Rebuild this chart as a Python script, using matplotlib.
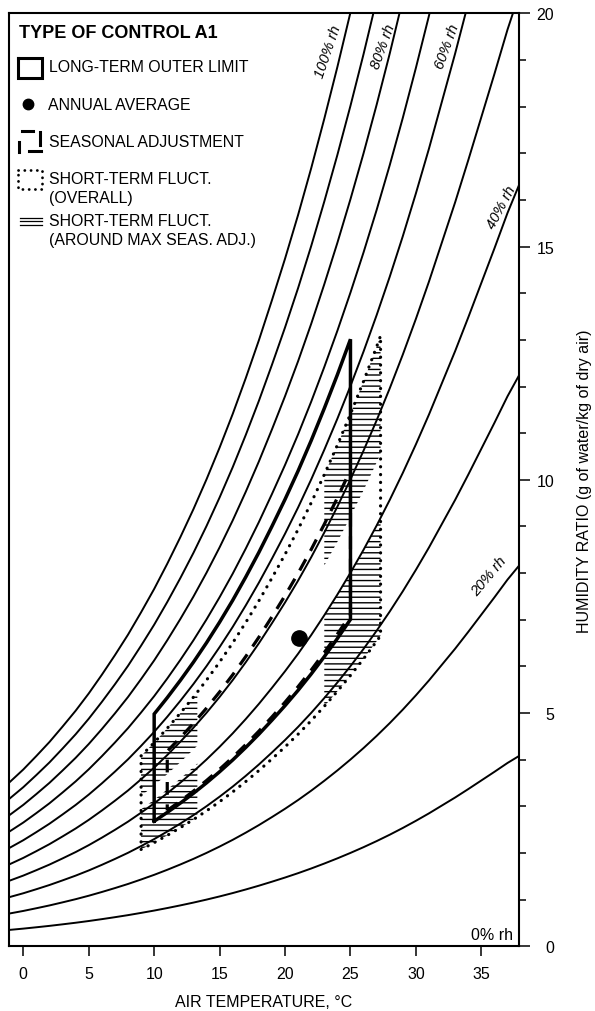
import numpy as np
import matplotlib
matplotlib.use("Agg")
import matplotlib.pyplot as plt
from matplotlib.ticker import MultipleLocator

plt.rcParams['font.family'] = ['Liberation Sans', 'DejaVu Sans']
plt.rcParams['hatch.linewidth'] = 1.0

# ---- data ----
# saturation humidity ratio (g/kg) by air temperature (°C), as drawn on the chart
sat_T = [-2, -1, 0, 1, 2, 3, 4, 5, 6, 7, 8, 9, 10, 11, 12, 13, 14, 15, 16, 17, 18, 19,
         20, 21, 22, 23, 24, 25, 26, 27, 28, 29, 30, 31, 32, 33, 34, 35, 36, 37, 38]
sat_W = [3.28, 3.53, 3.79, 4.08, 4.38, 4.71, 5.05, 5.42, 5.82, 6.24, 6.68, 7.16, 7.66,
         8.20, 8.77, 9.37, 10.01, 10.69, 11.41, 12.18, 12.99, 13.85, 14.74, 15.68, 16.68,
         17.74, 18.85, 20.02, 21.25, 22.55, 23.92, 25.37, 26.90, 28.50, 30.20, 31.90,
         33.70, 35.55, 37.40, 39.30, 41.00]
rh_levels = [10, 20, 30, 40, 50, 60, 70, 80, 90, 100]

# control zones: (T min, T max, rh min %, rh max %)
outer_limit = (10, 25, 35, 65)
seasonal_adj = (11, 25, 35.5, 51)
short_term_overall = (9, 27.3, 29, 57)
short_term_max_seas = [(23, 27.3, 46, 57), (23, 27.3, 29, 40),
                       (9, 13.3, 29, 41), (9, 13.3, 45, 57)]
annual_avg_T = [21.1]
annual_avg_W = [6.6]

curve_labels = ["100% rh", "80% rh", "60% rh", "40% rh", "20% rh"]
curve_label_T = [23.3, 27.5, 32.4, 36.55, 35.6]
curve_label_W = [19.2, 19.3, 19.3, 15.85, 7.95]
curve_label_rot = [71, 70, 70, 62, 50]

x_ticks = [0, 5, 10, 15, 20, 25, 30, 35]
y_ticks = [0, 5, 10, 15, 20]

W_px, H_px = 595, 1012
fig = plt.figure(figsize=(W_px / 100, H_px / 100), dpi=100)
L, R, T_, B = 9.3, 518.5, 14.3, 947.3
ax = fig.add_axes([L / W_px, 1 - B / H_px, (R - L) / W_px, (B - T_) / H_px])
ax.set_xlim(-1.07, 37.84)
ax.set_ylim(0, 20)


def rh_line(rh, t_lo, t_hi):
    ts = [t_lo] + [t for t in sat_T if t_lo < t < t_hi] + [t_hi]
    ts = np.array(ts, dtype=float)
    return ts, rh / 100.0 * np.interp(ts, sat_T, sat_W)


def zone(t_lo, t_hi, rh_lo, rh_hi):
    t1, w1 = rh_line(rh_lo, t_lo, t_hi)
    t2, w2 = rh_line(rh_hi, t_lo, t_hi)
    xs = np.concatenate([t1, t2[::-1], t1[:1]])
    ys = np.concatenate([w1, w2[::-1], w1[:1]])
    return xs, ys


for rh in rh_levels:
    ax.plot(sat_T, [rh / 100.0 * w for w in sat_W], color='black', lw=1.4, zorder=2)

for z in short_term_max_seas:
    xs, ys = zone(*z)
    ax.fill(xs, ys, facecolor='none', edgecolor='black', linewidth=0, hatch='---', zorder=3)

xs, ys = zone(*short_term_overall)
ax.plot(xs, ys, color='black', lw=2.3, linestyle=(0, (0.05, 2.4)), dash_capstyle='round', zorder=4)

xs, ys = zone(*seasonal_adj)
ax.plot(xs, ys, color='black', lw=2.3, linestyle=(0, (4, 3)), zorder=5)

xs, ys = zone(*outer_limit)
ax.plot(xs, ys, color='black', lw=2.5, zorder=6, solid_joinstyle='miter')

ax.plot(annual_avg_T, annual_avg_W, 'o', color='black', ms=11, zorder=7)

for txt, tx, ty, rot in zip(curve_labels, curve_label_T, curve_label_W, curve_label_rot):
    ax.text(tx, ty, txt, rotation=rot, ha='center', va='center', fontsize=10.5,
            style='italic', zorder=8)
ax.text(37.45, 0.1, "0% rh", ha='right', va='bottom', fontsize=11.5)

# axes styling
for s in ax.spines.values():
    s.set_linewidth(1.5)
ax.yaxis.tick_right()
ax.set_yticks(y_ticks)
ax.yaxis.set_minor_locator(MultipleLocator(1))
ax.set_xticks(x_ticks)
ax.tick_params(axis='y', which='major', direction='out', length=8, width=1.1, pad=17.6,
               labelsize=11.5, right=True, left=False)
ax.tick_params(axis='y', which='minor', direction='out', length=5, width=1.1, right=True, left=False)
for lab in ax.get_yticklabels():
    lab.set_horizontalalignment('right')
ax.tick_params(axis='x', which='major', direction='out', length=7.2, width=1.1, pad=7,
               labelsize=11.5, top=False)


def fp(x, y):
    return (x / W_px, 1 - y / H_px)


fig.text(*fp(263.9, 1003), "AIR TEMPERATURE, °C", ha='center', va='center', fontsize=11.5)
fig.text(*fp(585, 480.8), "HUMIDITY RATIO (g of water/kg of dry air)", ha='center',
         va='center', rotation=90, fontsize=11.5)

# legend block
tf = fig.transFigure
fig.text(*fp(19.3, 33.3), "TYPE OF CONTROL A1", ha='left', va='center', fontsize=13,
         fontweight='bold')
fs = 11.4
fig.text(*fp(48.8, 67.8), "LONG-TERM OUTER LIMIT", ha='left', va='center', fontsize=fs)
fig.text(*fp(48.3, 105), "ANNUAL AVERAGE", ha='left', va='center', fontsize=fs)
fig.text(*fp(48.8, 142.7), "SEASONAL ADJUSTMENT", ha='left', va='center', fontsize=fs)
fig.text(*fp(48.8, 179.3), "SHORT-TERM FLUCT.", ha='left', va='center', fontsize=fs)
fig.text(*fp(48.8, 198.3), "(OVERALL)", ha='left', va='center', fontsize=fs)
fig.text(*fp(48.8, 221.7), "SHORT-TERM FLUCT.", ha='left', va='center', fontsize=fs)
fig.text(*fp(48.8, 240.7), "(AROUND MAX SEAS. ADJ.)", ha='left', va='center', fontsize=fs)


def seg(pts, **kw):
    xs = [fp(*p)[0] for p in pts]
    ys = [fp(*p)[1] for p in pts]
    fig.add_artist(plt.Line2D(xs, ys, transform=tf, color='black', **kw))


seg([(18.3, 59.3), (41.7, 59.3), (41.7, 79.3), (18.3, 79.3), (18.3, 59.3)], lw=2.2,
    solid_joinstyle='miter')
fig.add_artist(plt.Line2D([fp(28.3, 105)[0]], [fp(28.3, 105)[1]], transform=tf,
                          marker='o', ms=7.5, color='black', linestyle='none'))
seg([(21.5, 131.7), (32.5, 131.7)], lw=2.2)
seg([(40.0, 132.5), (40.0, 145.5)], lw=2.2)
seg([(29.0, 151.7), (41.0, 151.7)], lw=2.2)
seg([(19.0, 143.0), (19.0, 153.0)], lw=2.2)
seg([(18.3, 170.7), (41.7, 170.7), (41.7, 190), (18.3, 190), (18.3, 170.7)], lw=2.0,
    linestyle=(0, (0.05, 2.2)), dash_capstyle='round')
for yy in (218.5, 222.0, 225.5):
    seg([(20.0, yy), (41.7, yy)], lw=0.9)

fig.savefig("out.png", dpi=100)
